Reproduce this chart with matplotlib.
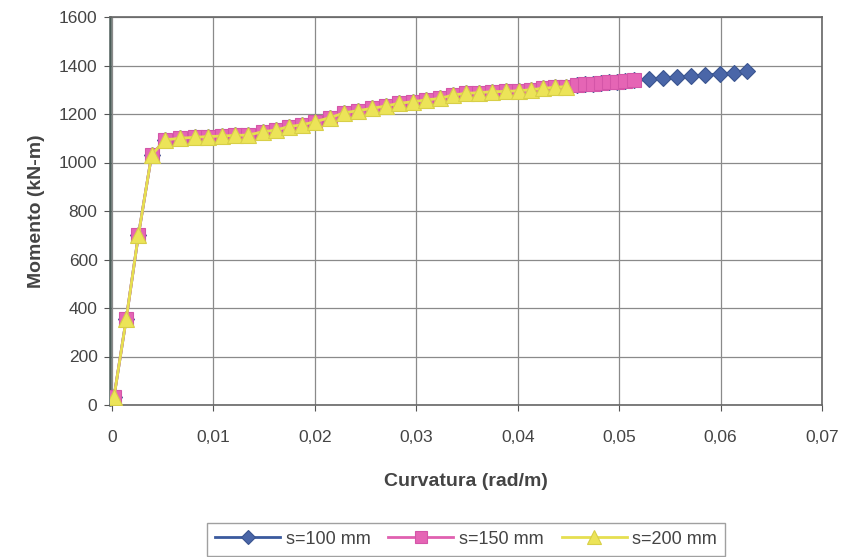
import matplotlib
matplotlib.use("Agg")
import matplotlib.pyplot as plt
from matplotlib.ticker import FuncFormatter

# ---- data ----
curv_common = [0.0002, 0.0014, 0.0026, 0.0039, 0.0052, 0.0067, 0.0082, 0.0095, 0.0108,
               0.0121, 0.0134, 0.0149, 0.0162, 0.0174, 0.0187, 0.0200, 0.0215, 0.0229,
               0.0243, 0.0256, 0.0270, 0.0283, 0.0297, 0.0310, 0.0323, 0.0336, 0.0349,
               0.0362, 0.0375, 0.0388, 0.0401, 0.0413, 0.0425, 0.0437, 0.0448]
mom_common = [35, 355, 700, 1030, 1093, 1100, 1104, 1107, 1109,
              1112, 1113, 1127, 1134, 1148, 1155, 1168, 1185, 1205,
              1214, 1223, 1233, 1244, 1251, 1258, 1264, 1278, 1285,
              1288, 1292, 1293, 1296, 1300, 1306, 1310, 1313]

curv_150_ext = [0.0458, 0.0466, 0.0474, 0.0482, 0.0490, 0.0498, 0.0506, 0.0515]
mom_150_ext = [1318, 1322, 1325, 1328, 1331, 1333, 1336, 1339]

curv_100_ext = [0.0529, 0.0543, 0.0557, 0.0571, 0.0585, 0.0599, 0.0613, 0.0626]
mom_100_ext = [1343, 1347, 1353, 1357, 1361, 1365, 1370, 1377]

curv_200 = curv_common
mom_200 = mom_common
curv_150 = curv_common + curv_150_ext
mom_150 = mom_common + mom_150_ext
curv_100 = curv_150 + curv_100_ext
mom_100 = mom_150 + mom_100_ext

labels = ["s=100 mm", "s=150 mm", "s=200 mm"]
x_ticks = [0, 0.01, 0.02, 0.03, 0.04, 0.05, 0.06, 0.07]
y_ticks = [0, 200, 400, 600, 800, 1000, 1200, 1400, 1600]

plt.rcParams['font.family'] = ['Liberation Sans', 'DejaVu Sans']

fig = plt.figure(figsize=(8.48, 5.57), dpi=100)
ax = fig.add_axes([110/848, 1 - 405/557, (822-110)/848, (405-17)/557])

ax.plot(curv_100, mom_100, color='#3a5a9e', lw=2, marker='D', ms=8,
        mfc='#4a66a8', mec='#3a5590', mew=0.8, label=labels[0], zorder=3)
ax.plot(curv_150, mom_150, color='#e060b0', lw=2, marker='s', ms=10,
        mfc='#e565b5', mec='#d455a8', mew=0.8, label=labels[1], zorder=4)
ax.plot(curv_200, mom_200, color='#e6df50', lw=2, marker='^', ms=11.5,
        mfc='#ece458', mec='#d8cf48', mew=0.8, label=labels[2], zorder=5)

ax.set_xlim(0 - 0.0002, 0.07)
ax.set_ylim(0, 1600)
ax.set_xticks(x_ticks)
ax.set_yticks(y_ticks)
ax.xaxis.set_major_formatter(FuncFormatter(
    lambda v, p: "0" if abs(v) < 1e-12 else f"{v:.2f}".replace('.', ',')))
ax.grid(True, color='#8a8a8a', lw=0.9)
ax.set_axisbelow(True)
for s in ax.spines.values():
    s.set_color('#666666')
    s.set_linewidth(1.2)
ax.spines['left'].set_color('#4c5c58')
ax.spines['left'].set_linewidth(1.8)
ax.tick_params(axis='both', colors='#555555', labelcolor='#444444',
               labelsize=12.5, length=4, direction='out')
ax.tick_params(axis='x', pad=14)
ax.tick_params(axis='y', pad=5)

ax.set_xlabel("Curvatura (rad/m)", fontsize=14, fontweight='bold', color='#444444', labelpad=20)
ax.set_ylabel("Momento (kN-m)", fontsize=14, fontweight='bold', color='#444444', labelpad=10)

leg = fig.legend(loc='lower center', bbox_to_anchor=(466/848, -0.014), ncol=3,
                 fontsize=13, frameon=True, fancybox=False, handlelength=3.6,
                 columnspacing=1.0, handletextpad=0.3, borderpad=0.45,
                 markerscale=0.85)
leg.get_frame().set_edgecolor('#888888')
leg.get_frame().set_linewidth(1.0)
for t in leg.get_texts():
    t.set_color('#444444')

fig.savefig("out.png", dpi=100)
